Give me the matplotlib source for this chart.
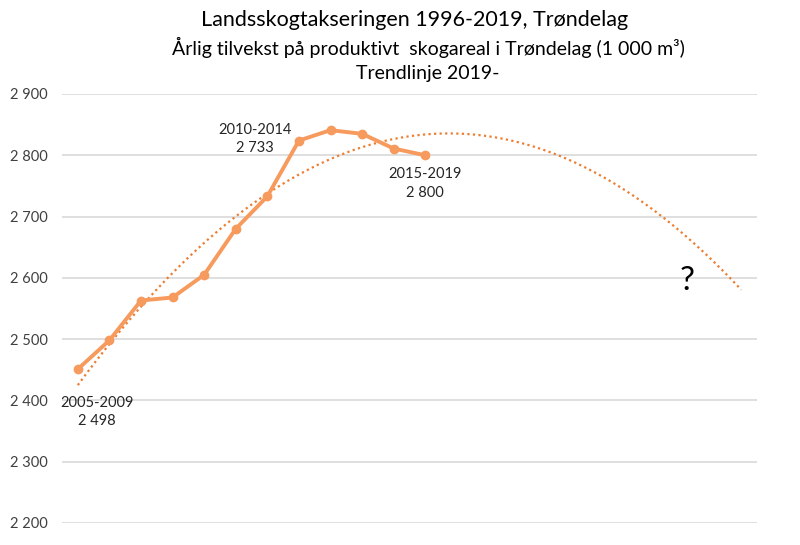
import numpy as np
import matplotlib
matplotlib.use("Agg")
import matplotlib.pyplot as plt
from matplotlib.ticker import FuncFormatter

plt.rcParams['font.family'] = ['Lato', 'DejaVu Sans']

# 5-year rolling means, annual growth (1 000 m3)
values = [2451, 2498, 2563, 2568, 2605, 2680, 2733, 2824, 2841, 2835, 2811, 2800]
n_categories = 22          # axis has room for the forecast periods
trend_end = 21             # trendline forecast runs to this category
labels = {1: "2005-2009\n2 498", 6: "2010-2014\n2 733", 11: "2015-2019\n2 800"}
yticks = [2200, 2300, 2400, 2500, 2600, 2700, 2800, 2900]

x = np.arange(len(values))
coef = np.polyfit(x, values, 2)
xt = np.linspace(0, trend_end, 200)
yt = np.polyval(coef, xt)

fig = plt.figure(figsize=(8, 5.45), dpi=100)
ax = fig.add_axes([62 / 800, 1 - 523 / 545, 695 / 800, 429 / 545])

ax.set_xlim(-0.5, n_categories - 0.5)
ax.set_ylim(yticks[0], yticks[-1])
ax.set_yticks(yticks)
ax.yaxis.set_major_formatter(FuncFormatter(lambda v, p: f"{int(v):,}".replace(",", " ")))
ax.tick_params(axis='y', length=0, pad=10, labelsize=10.5, labelcolor='#404040')
ax.set_xticks([])
ax.grid(axis='y', color='#d9d9d9', linewidth=1.2)
ax.set_axisbelow(True)
for s in ax.spines.values():
    s.set_visible(False)

ax.plot(xt, yt, linestyle=(0, (1, 1.5)), color='#ed7d31', linewidth=1.6, zorder=2)
ax.plot(x, values, color='#f79a5e', linewidth=2.8, marker='o', markersize=6, zorder=3)

ax.text(1 - 0.4, values[1] - 117, labels[1], ha='center', va='center', fontsize=10.5,
        color='#262626', linespacing=1.4)
ax.text(6 - 0.4, values[6] + 94, labels[6], ha='center', va='center', fontsize=10.5,
        color='#262626', linespacing=1.4)
ax.text(11, values[11] - 46, labels[11], ha='center', va='center', fontsize=10.5,
        color='#262626', linespacing=1.4)
ax.text(19.3, 2595, "?", ha='center', va='center', fontsize=24, color='black')

fig.text(415 / 800, 1 - 20 / 545, "Landsskogtakseringen 1996-2019, Trøndelag",
         ha='center', va='center', fontsize=15.5, color='black')
fig.text(428 / 800, 1 - 47 / 545, "Årlig tilvekst på produktivt  skogareal i Trøndelag (1 000 m³)",
         ha='center', va='center', fontsize=14, color='black')
fig.text(428 / 800, 1 - 73 / 545, "Trendlinje 2019-",
         ha='center', va='center', fontsize=14, color='black')

fig.savefig("out.png", dpi=100)
